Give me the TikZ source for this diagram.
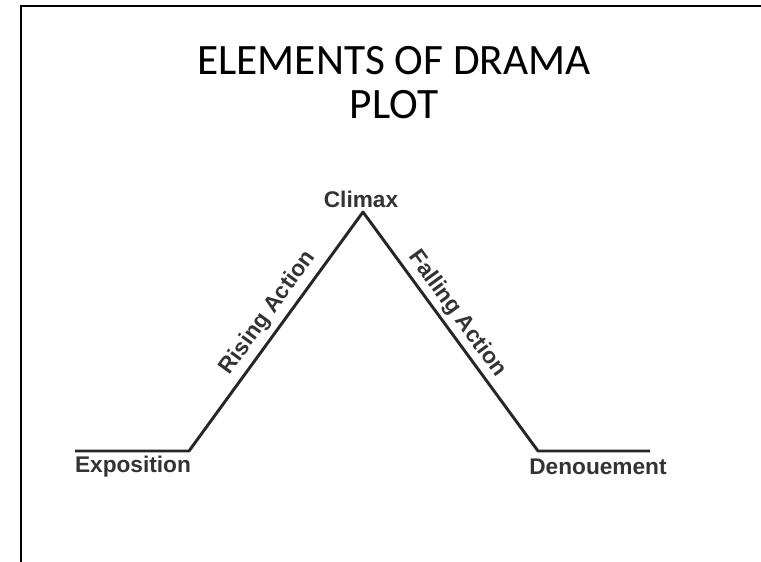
\documentclass[tikz,border=0pt]{standalone}
\usepackage{fontspec}
\setmainfont{Carlito}
\newfontfamily\labfont{Liberation Sans}
\definecolor{inkc}{HTML}{262626}
\definecolor{labc}{HTML}{333333}
\begin{document}
\begin{tikzpicture}[x=0.75pt,y=-0.75pt,
  frameline/.style={line width=2pt,black},
  plotline/.style={line width=2.2pt,inkc,line join=round},
  titletext/.style={font=\fontsize{32.5}{33}\selectfont,inner sep=0pt,anchor=base},
  labeltext/.style={font=\labfont\bfseries\fontsize{17}{18}\selectfont,text=labc,inner sep=0pt}]
\useasboundingbox (0,0) rectangle (761,561);
\fill[white] (0,0) rectangle (761,561);
% frame
\coordinate (fb) at (21,562);
\coordinate (fc) at (21,6);
\coordinate (fr) at (762,6);
\draw[frameline] (fb) -- (fc) -- (fr);
% title
\node[titletext] (t1) at (394,74) {ELEMENTS OF DRAMA};
\node[titletext] (t2) at (394,118) {PLOT};
% plot line
\coordinate (e0) at (75,451);
\coordinate (e1) at (189,451);
\coordinate (c) at (363,212);
\coordinate (d1) at (538,451);
\coordinate (d2) at (650,451);
\draw[plotline] (e0) -- (e1) -- (c) -- (d1) -- (d2);
% labels
\node[labeltext] (exp) at (133,467) {Exposition};
\node[labeltext] (den) at (598,467) {Denouement};
\node[labeltext] (cli) at (361,199) {Climax};
\node[labeltext,rotate=54] (ris) at (268,313) {Rising Action};
\node[labeltext,rotate=-54] (fal) at (457,314) {Falling Action};
\end{tikzpicture}
\end{document}
